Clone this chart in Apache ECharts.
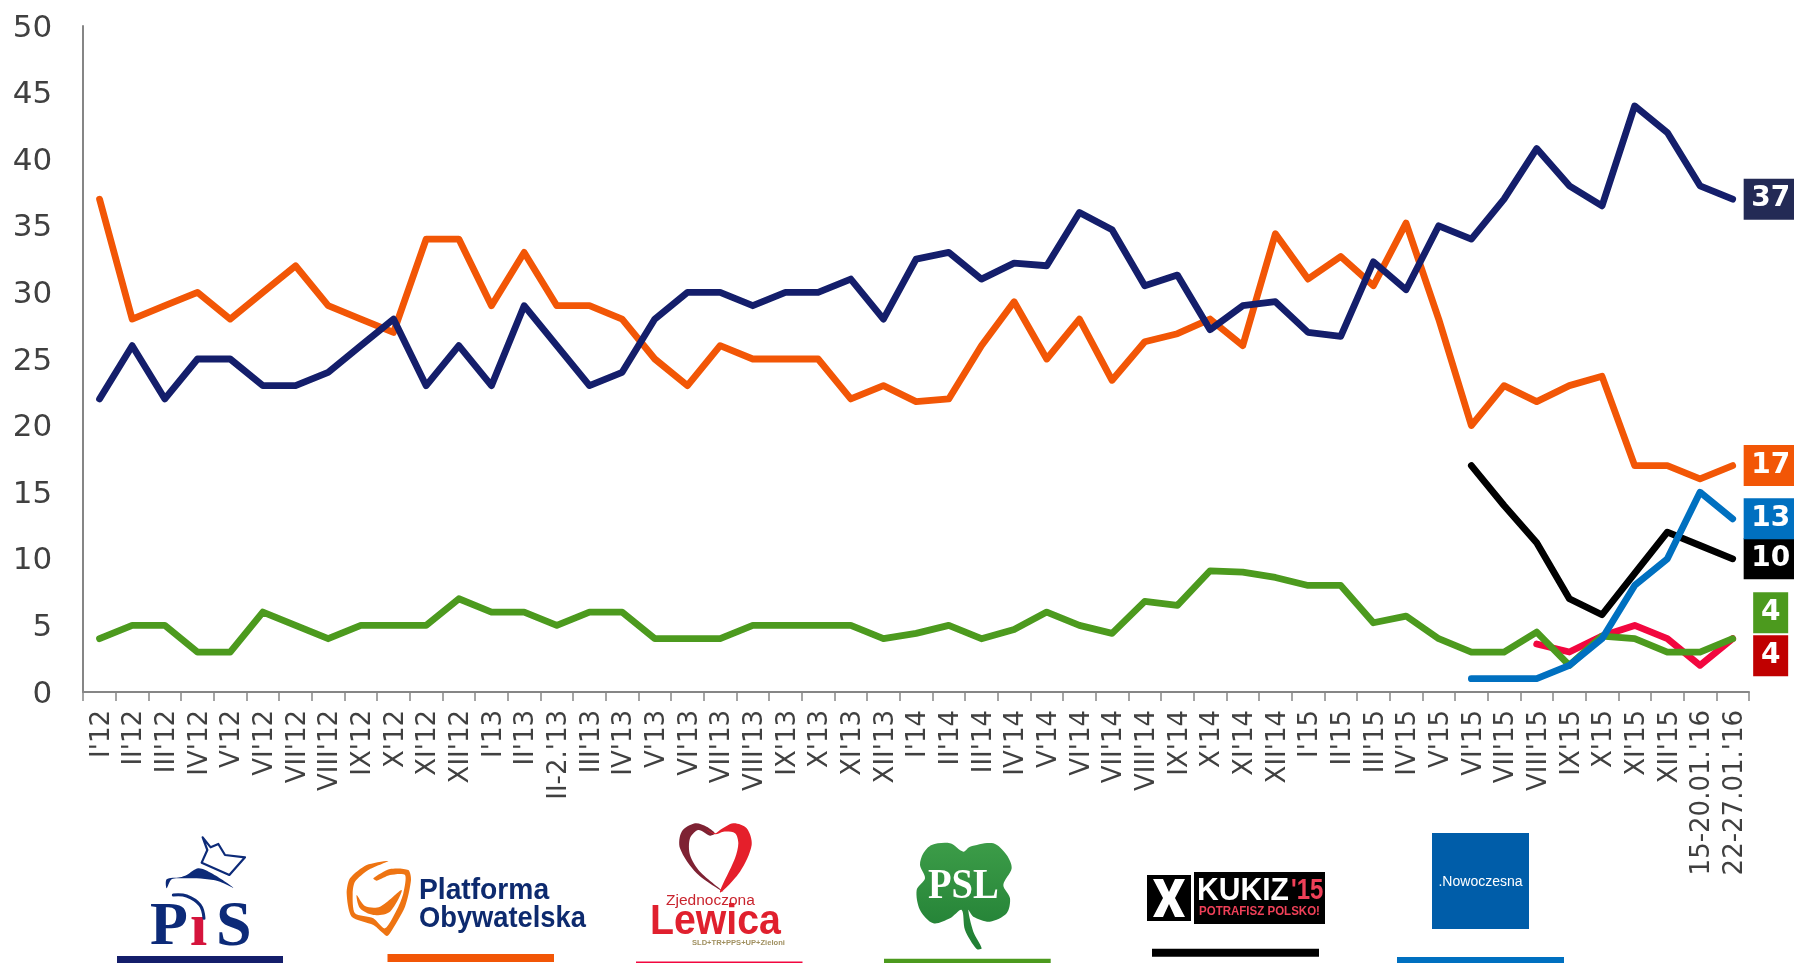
<!DOCTYPE html>
<html><head><meta charset="utf-8">
<style>html,body{margin:0;padding:0;background:#fff}#c{width:1794px;height:963px}</style>
<script src="https://cdn.jsdelivr.net/npm/echarts@6/dist/echarts.min.js"></script>
</head><body><div id="c"></div>
<script>
var categories = ["I'12","II'12","III'12","IV'12","V'12","VI'12","VII'12","VIII'12","IX'12","X'12","XI'12","XII'12",
"I'13","II'13","II-2.'13","III'13","IV'13","V'13","VI'13","VII'13","VIII'13","IX'13","X'13","XI'13","XII'13",
"I'14","II'14","III'14","IV'14","V'14","VI'14","VII'14","VIII'14","IX'14","X'14","XI'14","XII'14",
"I'15","II'15","III'15","IV'15","V'15","VI'15","VII'15","VIII'15","IX'15","X'15","XI'15","XII'15",
"15-20.01.'16","22-27.01.'16"];
var po = [37,28,29,30,28,30,32,29,28,27,34,34,29,33,29,29,28,25,23,26,25,25,25,22,23,
21.8,22,26,29.3,25,28,23.4,26.3,26.9,28,26,34.4,31,32.7,30.5,35.2,28,20,23,21.8,23,23.7,17,17,16,17];
var pis = [22,26,22,25,25,23,23,24,26,28,23,26,23,29,26,23,24,28,30,30,29,30,30,31,28,
32.5,33,31,32.2,32,36,34.7,30.5,31.3,27.2,29,29.3,27,26.7,32.3,30.2,35,34,37,40.8,38,36.5,44,42,38,37];
var psl = [4,5,5,3,3,6,5,4,5,5,5,7,6,6,5,6,6,4,4,4,5,5,5,5,4,
4.4,5,4,4.7,6,5,4.4,6.8,6.5,9.1,9,8.6,8,8,5.2,5.7,4,3,3,4.5,2,4.2,4,3,3,4];
var n = null;
var lewica = [n,n,n,n,n,n,n,n,n,n,n,n,n,n,n,n,n,n,n,n,n,n,n,n,n,
n,n,n,n,n,n,n,n,n,n,n,n,n,n,n,n,n,n,n,3.6,3,4.2,5,4,2,4];
var kukiz = [n,n,n,n,n,n,n,n,n,n,n,n,n,n,n,n,n,n,n,n,n,n,n,n,n,
n,n,n,n,n,n,n,n,n,n,n,n,n,n,n,n,n,17,14,11.2,7,5.8,8.9,12,11,10];
var nowoczesna = [n,n,n,n,n,n,n,n,n,n,n,n,n,n,n,n,n,n,n,n,n,n,n,n,n,
n,n,n,n,n,n,n,n,n,n,n,n,n,n,n,n,n,1,1,1,2,4,8,10,15,13];
var yTicks = [0,5,10,15,20,25,30,35,40,45,50];

var C = {po:'#f25606', pis:'#141e6b', psl:'#4c9a1e', lew:'#f2073f', kuk:'#000000', now:'#0070c0'};
function line(name,data,color,box,off,boxW){
  return {name:name,type:'line',data:data,symbol:'none',connectNulls:false,silent:true,
    lineStyle:{color:color,width:6.8,cap:'round',join:'round'},
    endLabel:{show:true,formatter:function(p){return String(p.value);},
      distance:0,offset:off,color:'#fff',fontFamily:'"DejaVu Sans"',fontWeight:'bold',fontSize:28,
      backgroundColor:box,width:boxW,height:41,lineHeight:41,align:'center',verticalAlign:'middle'}};
}
var chart = echarts.init(document.getElementById('c'),null,{renderer:'canvas'});
function T(t,x,y,o,sx){return {type:'text',silent:true,x:x,y:y,scaleX:sx||1,style:Object.assign({text:t,x:0,y:0,fontFamily:'"Liberation Sans"',verticalAlign:'middle',align:'left'},o)};}
function R(x,y,w,h,c){return {type:'rect',silent:true,shape:{x:x,y:y,width:w,height:h},style:{fill:c}};}
// logo artwork: outline points given in crop coordinates
function pts(list,ox,oy){var a=[];for(var i=0;i<list.length;i+=2)a.push([ox+list[i]/3,oy+list[i+1]/3]);return a;}
function G(list,ox,oy,fill,sm){return {type:'polygon',silent:true,shape:{points:pts(list,ox,oy),smooth:sm||0},style:{fill:fill}};}
function L(list,ox,oy,stroke,w,sm){return {type:'polyline',silent:true,shape:{points:pts(list,ox,oy),smooth:sm||0},style:{fill:'none',stroke:stroke,lineWidth:w,lineJoin:'round',lineCap:'round'}};}
var navy='#0c2a78';
var clover=new echarts.graphic.LinearGradient(0,0,0,1,[{offset:0,color:'#3c9c48'},{offset:1,color:'#1f7d33'}]);
var logos = [
 R(117,956,166,7,C.pis),R(387.5,954,166.5,8,C.po),R(636,961.5,166.5,1.5,C.lew),R(884,958.7,166.7,4.3,C.psl),R(1152,948.7,167,8,C.kuk),R(1397,957,167,6,C.now),
 // PiS
 T('P',150,928,{fontFamily:'"Liberation Serif"',fontWeight:'bold',fontSize:62,fill:navy}),
 T('ı',190,929,{fontFamily:'"Liberation Serif"',fontWeight:'bold',fontSize:62,fill:'#d5143c'}),
 T('S',216,928,{fontFamily:'"Liberation Serif"',fontWeight:'bold',fontSize:64,fill:navy}),
 L([100,225,140,228,180,255,192,295],140,820,navy,3,0.4),
 G([80,205,80,178,120,172,140,165,175,145,215,160,280,203,240,185,220,180,170,175,130,175,95,178],140,820,navy,0.3),
 L([188,52,212,82,235,72,255,105,315,112,268,165,185,128,202,90,188,52],140,820,navy,2.2),
 // PO
 G([145,33,80,45,30,85,20,130,35,200,100,225,140,258,150,250,195,170,213,90,205,60,150,57,100,85,110,92,150,75,195,75,190,130,175,170,135,235,100,205,45,190,38,130,45,95,85,60],340,850,'#ee7412',0.25),
 G([50,135,75,168,120,170,185,120,150,185,100,195,60,175],340,850,'#ee7412',0.3),
 T('Platforma',419,891,{fontWeight:'bold',fontSize:30,fill:'#0d2a6e'},0.94),
 T('Obywatelska',419,919,{fontWeight:'bold',fontSize:30,fill:'#0d2a6e'},0.91),
 // Lewica
 G([250,230,170,175,120,100,125,50,165,25,200,35,225,55,210,62,175,45,150,70,150,120,180,170],640,815,'#7e2233',0.3),
 G([240,232,300,170,335,90,320,40,280,25,240,45,225,55,197,42,225,58,250,50,285,55,295,85,285,130],640,815,'#e51f2b',0.3),
 T('Zjednoczona',666,901,{fontSize:15.5,fill:'#c9242e'}),
 T('Lewica',650,922,{fontWeight:'bold',fontSize:42,fill:'#e0202e'},0.935),
 T('SLD+TR+PPS+UP+Zieloni',692,943,{fontSize:7,fontWeight:'bold',fill:'#a09060'},1.08),
 // PSL
 G([95,30,150,25,190,50,210,35,280,25,320,60,335,100,310,150,330,190,320,235,270,260,220,245,205,225,220,290,245,340,230,342,195,285,185,225,150,250,100,265,60,225,50,165,75,130,60,90,70,55],900,835,clover,0.3),
 T('PSL',928,887,{fontFamily:'"Liberation Serif"',fontWeight:'bold',fontSize:42,fill:'#fff'},0.92),
 // Kukiz
 R(1147,875,44,46,'#000'),
 {type:'polygon',silent:true,shape:{points:[[1153,879],[1163,879],[1169,892],[1175,879],[1185,879],[1175,898],[1185,917],[1175,917],[1169,904],[1163,917],[1153,917],[1163,898]]},style:{fill:'#fff'}},
 R(1194,872,131,52,'#000'),
 T('KUKIZ',1197,891,{fontWeight:'bold',fontSize:31,fill:'#fff'},0.97),
 T("'15",1291,891,{fontWeight:'bold',fontSize:30,fill:'#ef4058'},0.8),
 T('POTRAFISZ POLSKO!',1199,912,{fontWeight:'bold',fontSize:12,fill:'#ef4058'},0.96),
 // Nowoczesna
 R(1432,833,97,96,'#005da9'),
 T('.Nowoczesna',1480.5,882,{fontSize:14,fill:'#fff',align:'center'})
];
chart.setOption({
  animation:false,
  grid:{left:83.2,right:45,top:26,bottom:271,containLabel:false},
  xAxis:{type:'category',data:categories,boundaryGap:true,
    axisLine:{lineStyle:{color:'#868686',width:2}},
    axisTick:{show:true,alignWithLabel:false,interval:0,length:9,lineStyle:{color:'#868686',width:1.5}},
    axisLabel:{interval:0,rotate:90,margin:18,color:'#404040',fontFamily:'"DejaVu Sans"',fontSize:26,hideOverlap:false,verticalAlign:'top',lineHeight:5},
    splitLine:{show:false}},
  yAxis:{type:'value',min:0,max:50,interval:5,
    axisLine:{show:true,lineStyle:{color:'#868686',width:2}},axisTick:{show:false},
    axisLabel:{margin:31,color:'#404040',fontFamily:'"DejaVu Sans"',fontSize:31,verticalAlign:'top',lineHeight:5},splitLine:{show:false}},
  series:[
    line('PO',po,C.po,C.po,[38,0],54),
    line('PiS',pis,C.pis,'#232a55',[38,0],54),
    line('Lewica',lewica,C.lew,'#c00000',[38,17],35),
    line('PSL',psl,C.psl,C.psl,[38,-26],35),
    line('Kukiz',kukiz,C.kuk,'#000',[38,0],54),
    line('Nowoczesna',nowoczesna,C.now,C.now,[38,0],54)
  ],
  graphic:{elements:logos}
});
</script></body></html>
